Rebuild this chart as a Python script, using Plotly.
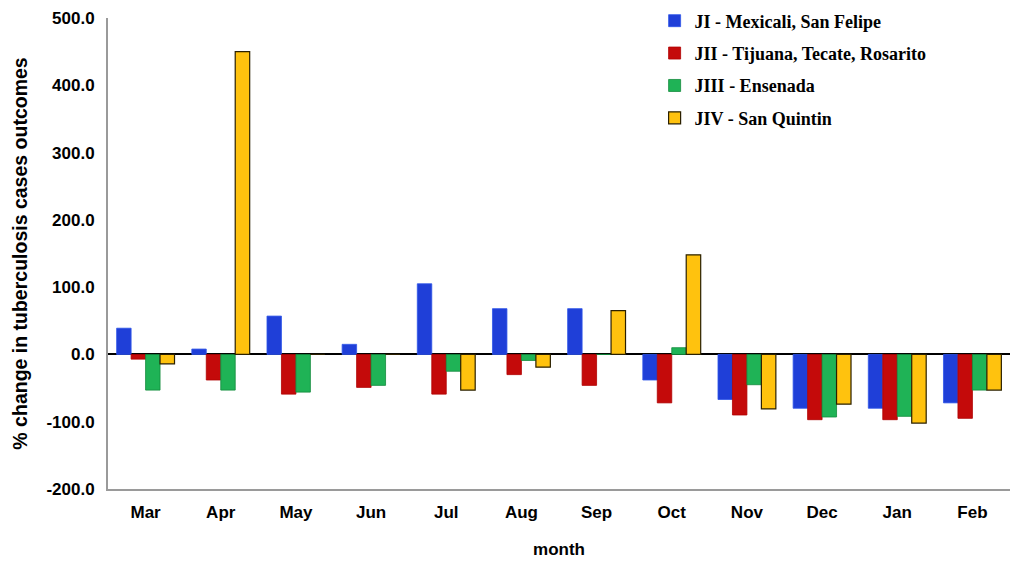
import plotly.graph_objects as go

months = ["Mar", "Apr", "May", "Jun", "Jul", "Aug", "Sep", "Oct", "Nov", "Dec", "Jan", "Feb"]

ji = [39, 8, 57, 15, 105, 68, 68, -38, -67, -80, -80, -72]
jii = [-7, -38, -59, -49, -59, -30, -46, -72, -90, -97, -97, -95]
jiii = [-53, -53, -56, -46, -25, -9, 0, 10, -45, -93, -92, -53]
jiv = [-14, 450, 0, 0, -53, -19, 65, 148, -81, -74, -102, -53]

y_ticks = [-200, -100, 0, 100, 200, 300, 400, 500]
y_labels = ["-200.0", "-100.0", "0.0", "100.0", "200.0", "300.0", "400.0", "500.0"]

series = [
    ("JI - Mexicali, San Felipe", ji, "#1f3fd8", "#2f55e8"),
    ("JII - Tijuana, Tecate, Rosarito", jii, "#c40a0a", "#b00000"),
    ("JIII - Ensenada", jiii, "#1fb356", "#138a3c"),
    ("JIV - San Quintin", jiv, "#ffc20e", "#2b2000"),
]

fig = go.Figure()
for i, (name, vals, col, edge) in enumerate(series):
    fig.add_trace(go.Bar(
        x=months, y=vals, name=name, legendgroup=str(i),
        marker=dict(color=col, line=dict(color=edge, width=1.2 if i == 3 else 0.8)),
    ))

# page body adds an 8px offset, margins account for it
fig.update_layout(
    width=1021, height=561,
    paper_bgcolor="white", plot_bgcolor="white",
    margin=dict(l=100, r=19, t=10, b=80, autoexpand=False),
    barmode="group", bargap=0.23, bargroupgap=0,
    font=dict(family="Liberation Sans, Arial", color="black"),
    legend=dict(
        x=0.606, y=1.033, xanchor="left", yanchor="top",
        font=dict(family="Liberation Serif, Times New Roman", size=18, color="black", weight="bold"),
        tracegroupgap=6, bgcolor="rgba(0,0,0,0)",
    ),
    showlegend=True,
)
fig.update_xaxes(
    showline=True, linecolor="#9a9a9a", linewidth=2,
    ticks="", showgrid=False, automargin=False, ticklabelstandoff=7,
    tickfont=dict(size=17, family="Liberation Sans, Arial", color="black", weight="bold"),
    title=dict(text="<b>month</b>", font=dict(size=17), standoff=22),
)
fig.update_yaxes(
    range=[-200, 500], tickvals=y_ticks, ticktext=y_labels,
    showline=True, linecolor="#9a9a9a", linewidth=2,
    showgrid=False, ticks="", automargin=False, ticklabelstandoff=8,
    zeroline=True, zerolinecolor="black", zerolinewidth=2,
    tickfont=dict(size=17, family="Liberation Sans, Arial", color="black", weight="bold"),
    title=dict(text="<b>% change in tuberculosis cases outcomes</b>", font=dict(size=19.5), standoff=14),
)

fig.write_html("out.html")
